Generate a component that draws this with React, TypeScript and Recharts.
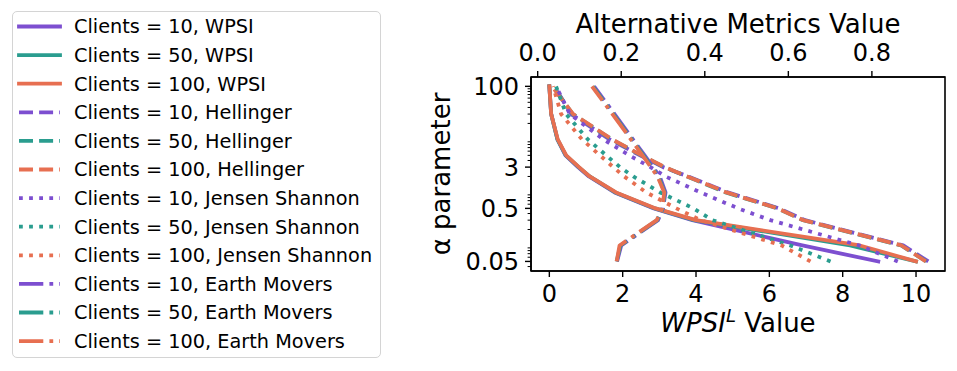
import { Label, Legend, ReferenceArea, Scatter, ScatterChart, XAxis, YAxis } from "recharts";

// alpha values (y, log scale) shared by every series
const alphas = [0.05, 0.1, 0.3, 0.5, 1, 2, 3, 5, 10, 30, 100];

// WPSI^L (bottom axis)
const wpsi10 = [8.97, 6.9, 3.9, 2.85, 1.78, 1.08, 0.78, 0.44, 0.22, 0.05, 0.0];
const wpsi50 = [10.0, 8.2, 3.95, 2.88, 1.8, 1.1, 0.8, 0.45, 0.22, 0.05, 0.0];
const wpsi100 = [10.0, 8.47, 4.0, 2.9, 1.82, 1.1, 0.81, 0.46, 0.23, 0.05, 0.0];

// alternative metrics (top axis)
const hel10 = [0.935, 0.875, 0.64, 0.578, 0.455, 0.36, 0.3, 0.245, 0.172, 0.08, 0.04];
const hel50 = [0.93, 0.87, 0.635, 0.574, 0.45, 0.357, 0.303, 0.248, 0.177, 0.084, 0.036];
const hel100 = [0.929, 0.871, 0.636, 0.574, 0.452, 0.358, 0.304, 0.249, 0.178, 0.085, 0.034];

const js10 = [0.862, 0.77, 0.557, 0.48, 0.39, 0.306, 0.27, 0.219, 0.157, 0.077, 0.044];
const js50 = [0.701, 0.605, 0.418, 0.373, 0.293, 0.229, 0.197, 0.164, 0.12, 0.068, 0.044];
const js100 = [0.653, 0.584, 0.39, 0.332, 0.26, 0.207, 0.181, 0.149, 0.106, 0.056, 0.037];

const em10 = [0.19, 0.2, 0.288, 0.3, 0.306, 0.292, 0.276, 0.256, 0.228, 0.184, 0.135];
const em50 = [0.189, 0.198, 0.286, 0.299, 0.304, 0.289, 0.273, 0.253, 0.225, 0.181, 0.132];
const em100 = [0.189, 0.196, 0.285, 0.298, 0.303, 0.287, 0.271, 0.251, 0.223, 0.179, 0.13];

const wpsiTicks = [0, 2, 4, 6, 8, 10];
const altTicks = [0, 0.2, 0.4, 0.6, 0.8];
const alphaTicks = [0.05, 0.5, 3, 100];
const alphaMinor = [0.04, 0.06, 0.07, 0.08, 0.09, 0.2, 0.3, 0.4, 0.6, 0.7, 0.8, 0.9, 2, 4, 5, 6, 7, 8, 9, 20, 30, 40, 50, 60, 70, 80, 90];

const clientCounts = [10, 50, 100];

const PURPLE = "#7d4fd0";
const TEAL = "#2a9d8f";
const CORAL = "#e76f51";
const colors = [PURPLE, TEAL, CORAL];

const FONT = "DejaVu Sans, sans-serif";
const LW = 3.8;
const TICK = 6;
const Y_MARGIN = 6;
const SPINE = 1.6;
const W_DOMAIN: [number, number] = [-0.5, 10.79];
const A_DOMAIN: [number, number] = [0.033, 150];

interface Style { label: string; axis: "w" | "a"; dash?: string; cap: "square" | "butt" }
const styles: Style[] = [
  { label: "WPSI", axis: "w", cap: "square" },
  { label: "Hellinger", axis: "a", dash: "14 6.1", cap: "butt" },
  { label: "Jensen Shannon", axis: "a", dash: "3.8 6.3", cap: "butt" },
  { label: "Earth Movers", axis: "a", dash: "24.3 6.1 3.8 6.1", cap: "butt" },
];
const values = [
  [wpsi10, wpsi50, wpsi100],
  [hel10, hel50, hel100],
  [js10, js50, js100],
  [em10, em50, em100],
];

const series = styles.flatMap((st, m) =>
  clientCounts.map((c, i) => ({
    name: `Clients = ${c}, ${st.label}`,
    color: colors[i],
    axis: st.axis,
    dash: st.dash,
    cap: st.cap,
    data: alphas.map((a, k) => ({ alpha: a, v: values[m][i][k] })),
  }))
);

const renderNothing = () => <g />;

function YTick(props: any) {
  const { x, y, payload } = props;
  const major = alphaTicks.includes(payload.value);
  const ax = x + TICK + Y_MARGIN;
  const len = major ? 6 : 3.4;
  return (
    <g>
      <line x1={ax - len} x2={ax} y1={y} y2={y} stroke="#000" strokeWidth={major ? 1.4 : 1} />
      {major && (
        <text x={x} y={y} dy="0.36em" textAnchor="end" fontSize={24} fontFamily={FONT} fill="#000">
          {String(payload.value)}
        </text>
      )}
    </g>
  );
}

function LegendBox() {
  return (
    <div style={{ width: 369, height: 347, border: "1.5px solid #d4d4d4", borderRadius: 5, boxSizing: "border-box", background: "#fff" }}>
      <svg width={366} height={344} style={{ display: "block" }}>
        {series.map((s, i) => {
          const cy = 14.5 + i * 28.6;
          return (
            <g key={s.name}>
              <line x1={6} x2={47} y1={cy} y2={cy} stroke={s.color} strokeWidth={LW}
                strokeDasharray={s.dash} strokeLinecap={s.cap} />
              <text x={61} y={cy} dy="0.36em" fontSize={19.3} fontFamily={FONT} fill="#000">{s.name}</text>
            </g>
          );
        })}
      </svg>
    </div>
  );
}

export default function App() {
  return (
    <div style={{ width: 957, height: 371, background: "#fff" }}>
      <style>{"body{margin:0}"}</style>
      <ScatterChart width={957} height={371} margin={{ top: 47, right: 12, bottom: 70, left: 471 }}>
        <XAxis xAxisId="w" type="number" dataKey="v" orientation="bottom" domain={W_DOMAIN} allowDataOverflow
          ticks={wpsiTicks} interval={0} height={30} tickSize={TICK} tickMargin={8}
          axisLine={{ stroke: "#000", strokeWidth: SPINE }} tickLine={{ stroke: "#000", strokeWidth: 1.4 }}
          tick={{ fill: "#000", fontSize: 24, fontFamily: FONT }}>
          <Label content={({ viewBox }: any) => (
            <text x={viewBox.x + viewBox.width / 2} y={viewBox.y + 61} textAnchor="middle" fontSize={26} fontFamily={FONT} fill="#000">
              <tspan fontStyle="italic">WPSI</tspan>
              <tspan fontStyle="italic" fontSize={18} dy={-10}>L</tspan>
              <tspan dy={10}> Value</tspan>
            </text>
          )} />
        </XAxis>
        <XAxis xAxisId="a" type="number" dataKey="v" orientation="top" domain={[-0.016, 0.975]} allowDataOverflow
          ticks={altTicks} interval={0} height={30} tickSize={TICK} tickMargin={10}
          tickFormatter={(v: number) => v.toFixed(1)}
          axisLine={{ stroke: "#000", strokeWidth: SPINE }} tickLine={{ stroke: "#000", strokeWidth: 1.4 }}
          tick={{ fill: "#000", fontSize: 24, fontFamily: FONT }}>
          <Label content={({ viewBox }: any) => (
            <text x={viewBox.x + viewBox.width / 2} y={viewBox.y - 14} textAnchor="middle" fontSize={26} fontFamily={FONT} fill="#000">
              Alternative Metrics Value
            </text>
          )} />
        </XAxis>
        <YAxis yAxisId="y" type="number" dataKey="alpha" scale="log" domain={A_DOMAIN} allowDataOverflow
          ticks={[...alphaTicks, ...alphaMinor].sort((p, q) => p - q)} interval={0} width={60}
          tickSize={TICK} tickMargin={Y_MARGIN} tickLine={false} tick={<YTick />}
          axisLine={{ stroke: "#000", strokeWidth: SPINE }}>
          <Label content={({ viewBox }: any) => {
            const cx = viewBox.x - 21;
            const cy = viewBox.y + viewBox.height / 2;
            return (
              <text x={cx} y={cy} transform={`rotate(-90 ${cx} ${cy})`} textAnchor="middle" fontSize={26} fontFamily={FONT} fill="#000">
                α parameter
              </text>
            );
          }} />
        </YAxis>
        {/* full box like matplotlib spines */}
        <ReferenceArea xAxisId="w" yAxisId="y" x1={W_DOMAIN[0]} x2={W_DOMAIN[1]} y1={A_DOMAIN[0]} y2={A_DOMAIN[1]}
          fill="none" fillOpacity={0} stroke="#000" strokeWidth={SPINE} ifOverflow="visible" />
        {series.map((s) => (
          <Scatter key={s.name} name={s.name} data={s.data} xAxisId={s.axis} yAxisId="y" fill={s.color}
            line={{ stroke: s.color, strokeWidth: LW, strokeDasharray: s.dash, strokeLinecap: s.cap, strokeLinejoin: "round" }}
            shape={renderNothing} legendType="none" isAnimationActive={false} />
        ))}
        <Legend layout="vertical" align="center" verticalAlign="middle" content={() => <LegendBox />}
          wrapperStyle={{ left: 12, top: 11, width: 369, height: 347 }} />
      </ScatterChart>
    </div>
  );
}
